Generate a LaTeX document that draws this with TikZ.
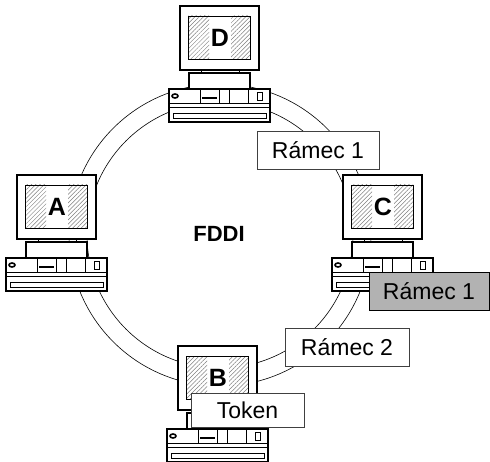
\documentclass[tikz,border=0pt]{standalone}
\usepackage{fontspec}
\setmainfont{Liberation Sans}
\usetikzlibrary{patterns.meta}
\tikzset{
	x=1pt, y=-1pt, % pixel grid, y runs down
	thick/.style={line width=1.6pt},
	detail/.style={line width=0.8pt},
	ring/.style={line width=0.6pt},
	hatch/.style={pattern={Lines[angle=45, distance=3pt, line width=0.5pt]}, pattern color=black!50},
	letter/.style={font=\fontsize{25}{28}\selectfont\bfseries, inner sep=0pt},
	frame/.style={draw=black!75, line width=0.8pt, fill=white, inner sep=0pt,
		font=\fontsize{23}{27}\selectfont, minimum height=38pt},
	busy/.style={frame, draw=black, fill=black!30},
	pics/computer/.style={code={
		% monitor
		\draw[thick, fill=white] (11,-83) rectangle (90,-19);
		\fill[hatch] (19,-73) rectangle (40,-30);
		\fill[hatch] (62,-73) rectangle (81,-30);
		\draw[detail] (19,-73) rectangle (81,-30);
		\node[letter] (-screen) at (51,-51) {#1};
		% neck and stand
		\draw[detail] (32,-19) -- (32,-16) (70,-19) -- (70,-16);
		\draw[thick, fill=white] (20,-16) rectangle (81,0);
		% case
		\draw[thick, fill=white] (0,0) rectangle (101,33);
		\draw[detail] (0,14) -- (101,14) (0,18) -- (101,18);
		\draw[detail] (4,24) rectangle (97,29);
		\draw[detail] (31,0) -- (31,14) (50,0) -- (50,14) (60,0) -- (60,14) (79,0) -- (79,14);
		\draw[thick] (33,9) -- (48,9);
		\draw[thick] (6,7) ellipse (3 and 2);
		\draw[detail] (88,3) rectangle (93,11);
	}},
}

\begin{document}
\begin{tikzpicture}
	\useasboundingbox (0,0) rectangle (490,462);

	% the double ring
	\coordinate (centre) at (220,235);
	\draw[ring] (centre) circle[radius=151];
	\draw[ring] (centre) circle[radius=133];
	\node[font=\fontsize{22}{26}\selectfont\bfseries] (fddi) at (219,234) {FDDI};

	% stations
	\pic (D) at (169,89) {computer=D};
	\pic (A) at (6,258) {computer=A};
	\pic (C) at (332,258) {computer=C};
	\pic (B) at (167,429) {computer=B};

	% frames on the ring
	\node[frame, minimum width=122pt] (frame1) at (318,150) {Rámec 1};
	\node[busy, minimum width=120pt] (copy1) at (429,291) {Rámec 1};
	\node[frame, minimum width=124pt] (frame2) at (347,347) {Rámec 2};
	\node[frame, minimum width=113pt, minimum height=34pt] (token) at (247.5,410) {Token};
\end{tikzpicture}
\end{document}
